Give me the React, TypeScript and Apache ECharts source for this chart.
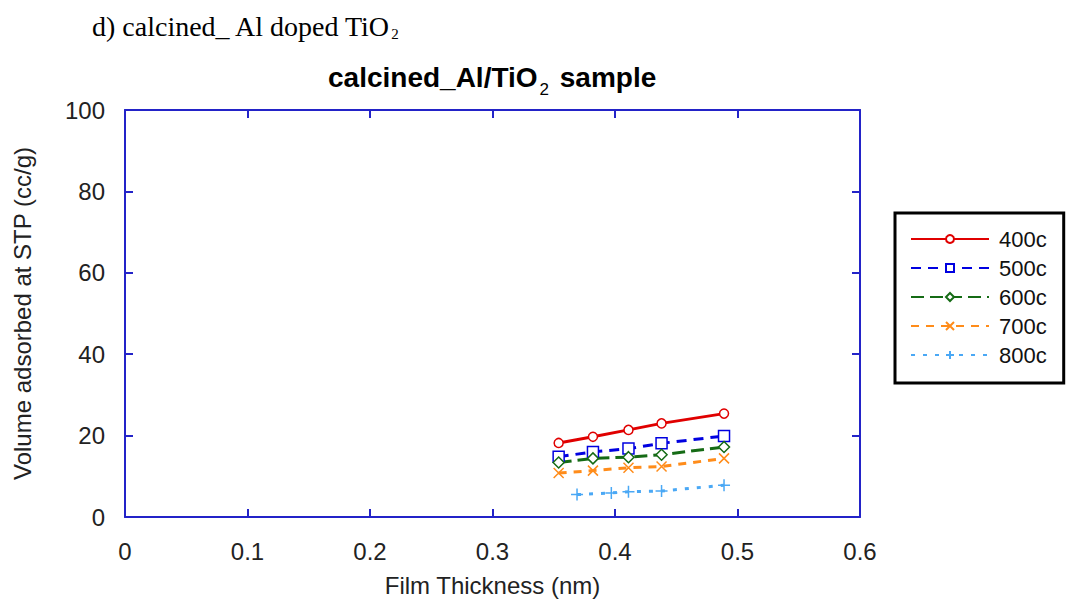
import React, { useEffect, useRef } from "react";
import * as echarts from "echarts";

const seriesNames = ["400c", "500c", "600c", "700c", "800c"];
const xMain = [0.354, 0.382, 0.411, 0.438, 0.489];
const x800 = [0.369, 0.397, 0.411, 0.438, 0.489];
const v400 = [18.2, 19.7, 21.4, 23.0, 25.4];
const v500 = [14.8, 16.0, 16.8, 18.1, 19.9];
const v600 = [13.4, 14.4, 14.7, 15.3, 17.2];
const v700 = [10.8, 11.4, 12.1, 12.4, 14.4];
const v800 = [5.5, 5.9, 6.2, 6.4, 7.8];
const xTicks = [0, 0.1, 0.2, 0.3, 0.4, 0.5, 0.6];
const yTicks = [0, 20, 40, 60, 80, 100];

const xPath = "path://M0,0L10,10M10,0L0,10";
const plusPath = "path://M5,0L5,10M0,5L10,5";

export default function App() {
  const ref = useRef<HTMLDivElement>(null);
  useEffect(() => {
    const chart = echarts.init(ref.current!, null, { renderer: "svg" });
    const axisColor = "#2323c8";
    const font = "'Liberation Sans', Arial, sans-serif";
    const serif = "'Liberation Serif', 'Times New Roman', serif";
    const pair = (xs: number[], ys: number[]) => xs.map((x, i) => [x, ys[i]]);
    const mk = (name: string, xs: number[], ys: number[], color: string, type: any, symbol: string, size: number, width: number) => ({
      name,
      type: "line",
      data: pair(xs, ys),
      symbol,
      symbolSize: size,
      showAllSymbol: true,
      lineStyle: { color, width, type },
      itemStyle: { color: "#fff", borderColor: color, borderWidth: 1.5 },
      z: 3,
    });
    const tickStyle = { show: true, inside: true, length: 8, lineStyle: { color: axisColor, width: 2 } };
    const lineStyle = { show: true, onZero: false, lineStyle: { color: axisColor, width: 2 } };
    chart.setOption({
      animation: false,
      backgroundColor: "#fff",
      graphic: [
        {
          type: "text",
          left: 92,
          top: 12,
          style: {
            text: "{a|d) calcined_ Al doped TiO}{s|2}",
            rich: {
              a: { fontFamily: serif, fontSize: 28, fill: "#000" },
              s: { fontFamily: serif, fontSize: 15, fill: "#000", padding: [16, 0, 0, 0] },
            },
          },
        },
        {
          type: "text",
          left: 328,
          top: 63,
          style: {
            text: "{a|calcined_Al/TiO}{s|2}{a| sample}",
            rich: {
              a: { fontFamily: font, fontSize: 28, fontWeight: "bold", fill: "#000" },
              s: { fontFamily: font, fontSize: 17, fill: "#000", padding: [24, 3, 0, 2] },
            },
          },
        },
      ],
      legend: {
        data: seriesNames,
        orient: "vertical",
        left: 895,
        top: 213,
        itemWidth: 78,
        itemHeight: 10,
        itemGap: 7,
        itemTextGap: 17,
        padding: [15, 17, 17, 15],
        borderColor: "#000",
        borderWidth: 3,
        textStyle: { fontFamily: font, fontSize: 22, lineHeight: 22, color: "#111", padding: [0, 0, 0, 5] },
      },
      grid: { left: 125, top: 110, width: 735, height: 407, outerBoundsMode: "none", containLabel: false },
      xAxis: [
        {
          type: "value",
          min: 0,
          max: 0.6,
          interval: 0.1,
          name: "Film Thickness (nm)",
          nameLocation: "middle",
          nameGap: 56,
          nameTextStyle: { fontFamily: font, fontSize: 24, color: "#222" },
          axisLine: lineStyle,
          axisTick: tickStyle,
          axisLabel: { fontFamily: font, fontSize: 24, color: "#222", margin: 22, formatter: (v: number) => String(Math.round(v * 10) / 10) },
          splitLine: { show: false },
        },
        {
          type: "value",
          position: "top",
          min: 0,
          max: 0.6,
          interval: 0.1,
          axisLine: lineStyle,
          axisTick: tickStyle,
          axisLabel: { show: false },
          splitLine: { show: false },
        },
      ],
      yAxis: [
        {
          type: "value",
          min: 0,
          max: 100,
          interval: 20,
          name: "Volume adsorbed at STP (cc/g)",
          nameLocation: "middle",
          nameGap: 91,
          nameTextStyle: { fontFamily: font, fontSize: 24, color: "#222" },
          axisLine: lineStyle,
          axisTick: tickStyle,
          axisLabel: { fontFamily: font, fontSize: 24, color: "#222", margin: 20 },
          splitLine: { show: false },
        },
        {
          type: "value",
          position: "right",
          min: 0,
          max: 100,
          interval: 20,
          axisLine: lineStyle,
          axisTick: tickStyle,
          axisLabel: { show: false },
          splitLine: { show: false },
        },
      ],
      series: [
        mk("400c", xMain, v400, "#e00000", "solid", "circle", 9, 3),
        mk("500c", xMain, v500, "#0000e0", [10, 7], "rect", 11, 3),
        mk("600c", xMain, v600, "#156b15", [13, 6], "diamond", 11, 3),
        mk("700c", xMain, v700, "#ff8c1a", [8, 7], xPath, 10, 3),
        mk("800c", x800, v800, "#4aa8f5", [4, 8], plusPath, 12, 3),
      ],
    });
    return () => chart.dispose();
  }, []);
  return <div ref={ref} style={{ position: "fixed", left: 0, top: 0, width: 1067, height: 599 }} />;
}
